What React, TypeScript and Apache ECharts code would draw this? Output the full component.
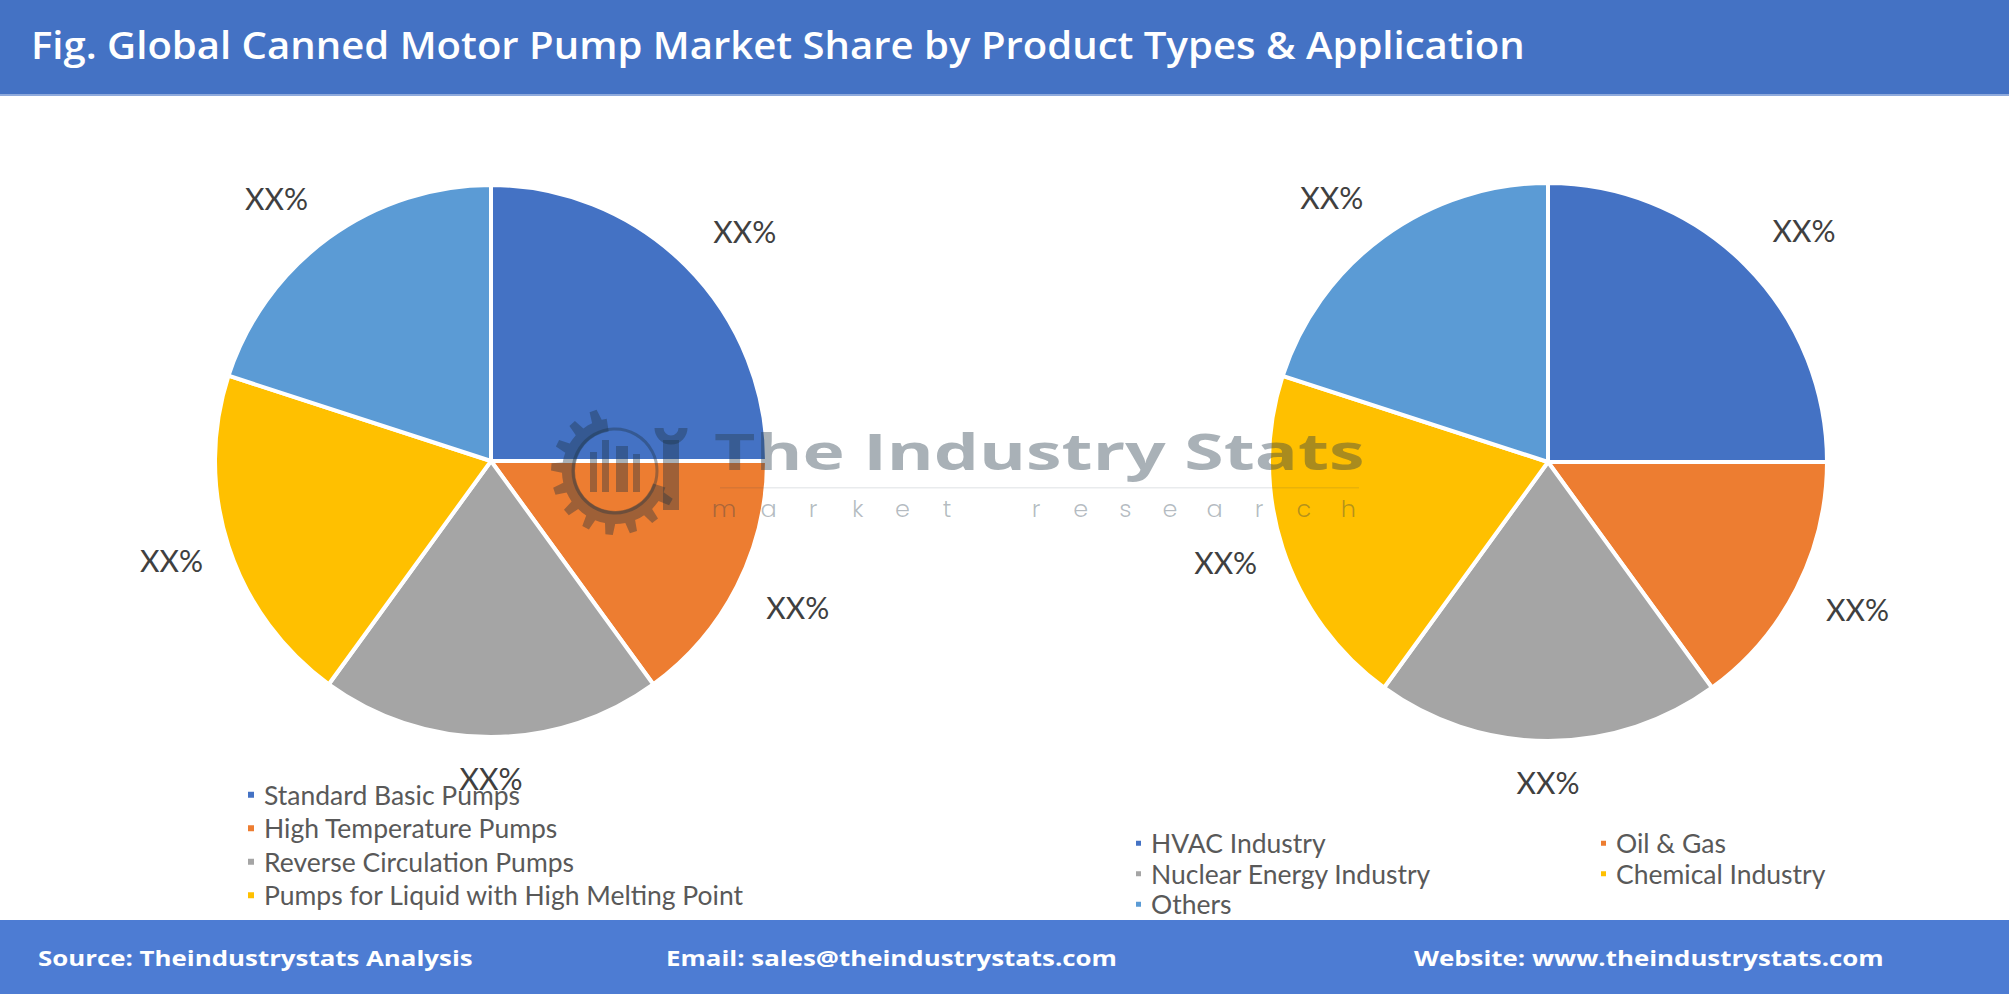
import React, { useEffect, useRef } from "react";
import * as echarts from "echarts";

const titleText = "Fig. Global Canned Motor Pump Market Share by Product Types & Application";
const productTypes = [
  "Standard Basic Pumps",
  "High Temperature Pumps",
  "Reverse Circulation Pumps",
  "Pumps for Liquid with High Melting Point",
  "Others",
];
const productShares = [25, 15, 20, 20, 20];
const applications = ["HVAC Industry", "Oil & Gas", "Nuclear Energy Industry", "Chemical Industry", "Others"];
const applicationShares = [25, 15, 20, 20, 20];
const sliceLabel = "XX%";
const palette = ["#4472C4", "#ED7D31", "#A5A5A5", "#FFC000", "#5B9BD5"];
const footerTexts = [
  "Source: Theindustrystats Analysis",
  "Email: sales@theindustrystats.com",
  "Website: www.theindustrystats.com",
];

// place each "XX%" just outside its slice, along the slice's mid-angle
const labelLayoutFn = (p: any) => {
  const pts = p.labelLinePoints;
  if (!pts) return {};
  const x1 = pts[0][0], y1 = pts[0][1];
  let ux = pts[1][0] - x1, uy = pts[1][1] - y1;
  const n = Math.hypot(ux, uy) || 1;
  ux /= n; uy /= n;
  const ay = Math.abs(uy);
  const dx = 42 + 58 * ay;
  const dy = 46 - 5 * uy * uy + (uy < 0 ? 6 : 0);
  return { x: x1 + ux * dx, y: y1 + uy * dy, align: "center", verticalAlign: "middle" };
};

function pieSeries(names: string[], values: number[], center: number[], radius: number) {
  return {
    type: "pie",
    center,
    radius,
    startAngle: 90,
    clockwise: true,
    avoidLabelOverlap: false,
    silent: true,
    itemStyle: { borderColor: "#ffffff", borderWidth: 4 },
    label: {
      show: true,
      position: "outside",
      formatter: () => sliceLabel,
      fontFamily: "Lato",
      fontSize: 30,
      color: "#404040",
    },
    labelLine: { show: true, length: 20, length2: 0, lineStyle: { width: 0, opacity: 0 } },
    labelLayout: labelLayoutFn,
    data: names.map((name, i) => ({ name, value: values[i], itemStyle: { color: palette[i] } })),
  };
}

function buildGearPath(cx: number, cy: number, rOut: number, rIn: number, teeth: number, a0: number, a1: number) {
  // a partial gear outline (decorative watermark)
  let d = "";
  const step = (a1 - a0) / teeth;
  for (let i = 0; i < teeth; i++) {
    const s = a0 + i * step;
    const pts = [
      [s, rIn], [s + step * 0.25, rIn], [s + step * 0.35, rOut], [s + step * 0.65, rOut], [s + step * 0.75, rIn], [s + step, rIn],
    ];
    pts.forEach(([a, r], k) => {
      const x = cx + r * Math.cos(a), y = cy + r * Math.sin(a);
      d += (i === 0 && k === 0 ? "M" : "L") + x.toFixed(1) + " " + y.toFixed(1) + " ";
    });
  }
  const rInner = rIn - 13;
  for (let i = 24; i >= 0; i--) {
    const a = a0 + ((a1 - a0) * i) / 24;
    d += "L" + (cx + rInner * Math.cos(a)).toFixed(1) + " " + (cy + rInner * Math.sin(a)).toFixed(1) + " ";
  }
  return d + "Z";
}

export default function App() {
  const ref = useRef<HTMLDivElement>(null);
  useEffect(() => {
    document.body.style.margin = "0";
    if (!ref.current) return;
    echarts.graphic.registerShape(
      "gearlogo",
      echarts.graphic.extendPath(buildGearPath(64, 64, 64, 53, 11, Math.PI * 0.1, Math.PI * 1.45), {})
    );
    const chart = echarts.init(ref.current, null, { renderer: "svg" });
    const wm = "rgba(30,50,65,0.38)";
    const marketWord = "market research";
    const letters: any[] = [];
    for (let i = 0; i < marketWord.length; i++) {
      letters.push({
        type: "text",
        x: 724 + i * 44.6,
        y: 508,
        z: 20,
        style: { text: marketWord[i], fill: "rgba(40,60,75,0.35)", font: "300 24px Poppins, 'Open Sans', sans-serif", align: "center", verticalAlign: "middle" },
      });
    }
    const legendText = { fontFamily: "Lato", fontSize: 26.5, color: "#595959", padding: [0, 0, 0, 4] };
    chart.setOption({
      animation: false,
      backgroundColor: "#ffffff",
      legend: [
        {
          orient: "vertical",
          left: 246,
          top: 778,
          padding: 0,
          itemGap: 0,
          itemWidth: 8,
          itemHeight: 8,
          icon: "rect",
          selectedMode: false,
          data: productTypes.slice(0, 4),
          textStyle: { ...legendText, lineHeight: 33.5 },
        },
        {
          orient: "vertical",
          left: 1134,
          top: 828,
          padding: 0,
          itemGap: 0,
          itemWidth: 7,
          itemHeight: 7,
          icon: "rect",
          selectedMode: false,
          data: [applications[0], applications[2], applications[4]],
          textStyle: { ...legendText, fontSize: 26.5, lineHeight: 30.5 },
        },
        {
          orient: "vertical",
          left: 1599,
          top: 828,
          padding: 0,
          itemGap: 0,
          itemWidth: 7,
          itemHeight: 7,
          icon: "rect",
          selectedMode: false,
          data: [applications[1], applications[3]],
          textStyle: { ...legendText, fontSize: 26.5, lineHeight: 30.5 },
        },
      ],
      graphic: [
        { type: "rect", z: -10, shape: { x: 0, y: 0, width: 2009, height: 94 }, style: { fill: "#4472C4" } },
        { type: "rect", z: -10, shape: { x: 0, y: 94, width: 2009, height: 2 }, style: { fill: "#8FAADC" } },
        {
          type: "text",
          x: 31,
          y: 44,
          scaleX: 1.055,
          style: { text: titleText, fill: "#ffffff", font: "600 38px 'Open Sans', sans-serif", verticalAlign: "middle" },
        },
        { type: "rect", z: -10, shape: { x: 0, y: 920, width: 2009, height: 74 }, style: { fill: "#4D7CD3" } },
        ...footerTexts.map((t, i) => ({
          type: "text",
          x: [38, 666, 1414][i],
          y: 957,
          scaleX: 1.175,
          style: { text: t, fill: "#ffffff", font: "bold 22px 'Open Sans', sans-serif", verticalAlign: "middle" },
        })),
        // watermark
        { type: "gearlogo", x: 551, y: 407, z: 20, style: { fill: wm } },
        { type: "arc", z: 20, shape: { cx: 615, cy: 471, r: 42, startAngle: 0, endAngle: Math.PI * 2 }, style: { stroke: wm, lineWidth: 3, fill: "none" } },
        { type: "rect", z: 20, shape: { x: 590, y: 452, width: 7, height: 40 }, style: { fill: wm } },
        { type: "rect", z: 20, shape: { x: 602, y: 440, width: 7, height: 52 }, style: { fill: wm } },
        { type: "rect", z: 20, shape: { x: 616, y: 446, width: 12, height: 46 }, style: { fill: wm } },
        { type: "rect", z: 20, shape: { x: 633, y: 454, width: 7, height: 38 }, style: { fill: wm } },
        { type: "rect", z: 20, shape: { x: 663, y: 440, width: 16, height: 70 }, style: { fill: wm } },
        { type: "arc", z: 20, shape: { cx: 671, cy: 428, r: 12, startAngle: 0, endAngle: Math.PI }, style: { stroke: wm, lineWidth: 9, fill: "none" } },
        {
          type: "text",
          x: 714,
          y: 451,
          z: 20,
          scaleX: 1.43,
          style: { text: "The Industry Stats", fill: "rgba(40,60,75,0.4)", font: "bold 50px 'Open Sans', sans-serif", verticalAlign: "middle" },
        },
        { type: "rect", z: 20, shape: { x: 720, y: 487, width: 639, height: 1.5 }, style: { fill: "rgba(40,60,75,0.1)" } },
        ...letters,
      ],
      series: [
        pieSeries(productTypes, productShares, [491, 461], 276),
        pieSeries(applications, applicationShares, [1548, 462], 279),
      ],
    });
    return () => chart.dispose();
  }, []);
  return <div ref={ref} style={{ position: "fixed", left: 0, top: 0, width: 2009, height: 994 }} />;
}
